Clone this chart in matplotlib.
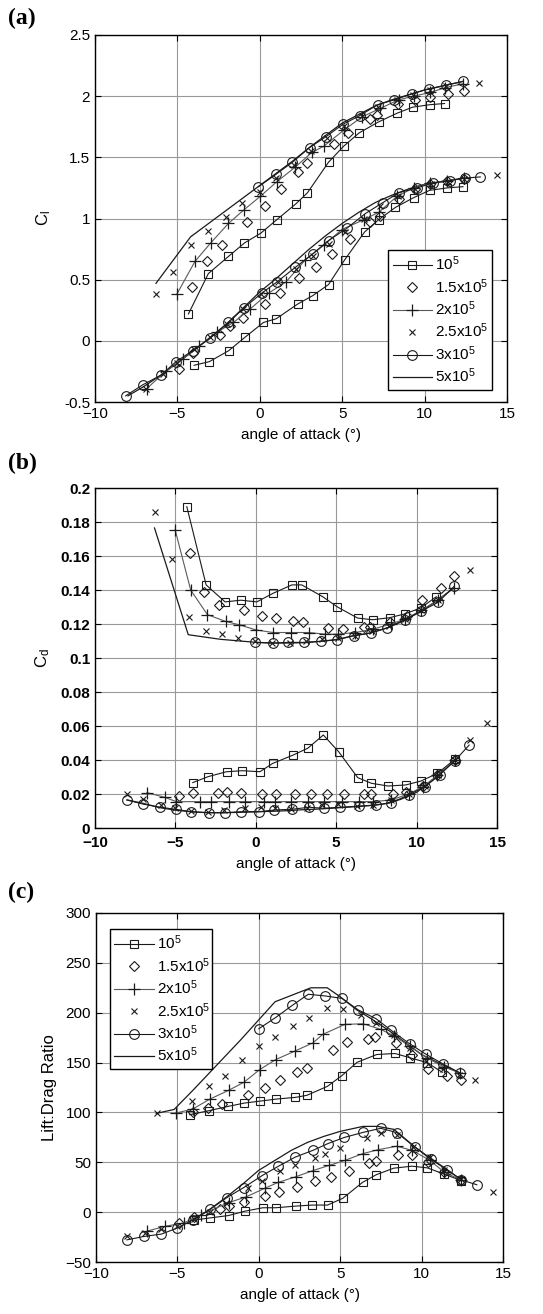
import matplotlib
matplotlib.use('Agg')
import matplotlib.pyplot as plt

plt.rcParams['font.family'] = ['Liberation Sans', 'DejaVu Sans']
plt.rcParams['mathtext.fontset'] = 'custom'
plt.rcParams['mathtext.rm'] = 'Liberation Sans'
plt.rcParams['mathtext.it'] = 'Liberation Sans'

labels = ['10$^5$', '1.5x10$^5$', '2x10$^5$', '2.5x10$^5$', '3x10$^5$', '5x10$^5$']

# ---- (a) lift coefficient, upper (u) and lower (l) groups ----
cl_re1_xu = [-4.33, -3.12, -1.90, -0.93, 0.06, 1.03, 2.19, 2.89, 4.17, 5.08, 6.03, 7.21, 8.32, 9.27, 10.30, 11.21]
cl_re1_yu = [0.22, 0.55, 0.69, 0.80, 0.88, 0.99, 1.12, 1.21, 1.46, 1.59, 1.70, 1.79, 1.86, 1.91, 1.93, 1.94]
cl_re1_xl = [-3.99, -3.06, -1.88, -0.89, 0.22, 0.99, 2.29, 3.22, 4.17, 5.14, 6.36, 7.21, 8.22, 9.33, 10.30, 11.36, 12.33]
cl_re1_yl = [-0.20, -0.17, -0.08, 0.03, 0.15, 0.18, 0.30, 0.37, 0.46, 0.66, 0.89, 0.99, 1.09, 1.17, 1.23, 1.25, 1.26]

cl_re15_xu = [-4.09, -3.22, -2.27, -0.75, 0.32, 1.29, 2.31, 2.89, 4.49, 5.38, 6.70, 7.10, 8.38, 9.40, 10.30, 11.40, 12.40]
cl_re15_yu = [0.44, 0.65, 0.78, 0.97, 1.10, 1.24, 1.38, 1.45, 1.61, 1.70, 1.81, 1.85, 1.94, 1.97, 1.99, 2.02, 2.04]
cl_re15_xl = [-4.88, -4.03, -2.41, -1.80, -0.99, 0.32, 1.23, 2.35, 3.42, 4.37, 5.49, 6.70, 7.31, 8.42, 9.43, 10.34, 11.36, 12.37]
cl_re15_yl = [-0.23, -0.10, 0.05, 0.12, 0.19, 0.30, 0.39, 0.51, 0.60, 0.71, 0.83, 0.97, 1.02, 1.16, 1.24, 1.28, 1.31, 1.32]

cl_re2_xu = [-5.04, -3.93, -2.98, -1.90, -0.97, 0.02, 1.03, 2.15, 3.16, 3.87, 5.08, 6.19, 7.31, 8.42, 9.33, 10.34, 11.26, 12.30]
cl_re2_yu = [0.38, 0.65, 0.80, 0.96, 1.07, 1.18, 1.30, 1.42, 1.54, 1.59, 1.72, 1.83, 1.90, 1.97, 2.00, 2.03, 2.07, 2.10]
cl_re2_xl = [-6.86, -5.71, -4.68, -3.66, -2.61, -1.60, -0.59, 0.53, 1.58, 2.75, 3.87, 4.98, 6.30, 7.21, 8.32, 9.33, 10.34, 11.36, 12.37]
cl_re2_yl = [-0.39, -0.25, -0.15, -0.04, 0.07, 0.15, 0.26, 0.39, 0.48, 0.66, 0.78, 0.91, 0.99, 1.05, 1.18, 1.25, 1.29, 1.31, 1.33]

cl_re25_xu = [-6.30, -5.28, -4.17, -3.12, -2.06, -1.05, 0.0, 1.0, 2.1, 3.1, 4.1, 5.1, 6.2, 7.2, 8.3, 9.3, 10.3, 11.3, 13.3]
cl_re25_yu = [0.38, 0.56, 0.78, 0.90, 1.01, 1.13, 1.22, 1.33, 1.44, 1.55, 1.66, 1.76, 1.84, 1.91, 1.97, 2.01, 2.05, 2.08, 2.11]
cl_re25_xl = [-6.9, -5.9, -5.0, -4.0, -3.0, -2.0, -1.0, 0.1, 1.1, 2.2, 3.2, 4.2, 5.2, 6.3, 7.3, 8.4, 9.4, 10.4, 11.4, 12.4, 14.4]
cl_re25_yl = [-0.39, -0.27, -0.18, -0.07, 0.03, 0.14, 0.26, 0.38, 0.48, 0.59, 0.69, 0.79, 0.89, 1.00, 1.10, 1.18, 1.24, 1.28, 1.30, 1.32, 1.355]

cl_re3_xu = [-0.08, 0.97, 1.98, 3.02, 4.03, 5.04, 6.05, 7.15, 8.16, 9.23, 10.24, 11.30, 12.31]
cl_re3_yu = [1.26, 1.36, 1.46, 1.58, 1.67, 1.77, 1.84, 1.93, 1.97, 2.02, 2.06, 2.09, 2.12]
cl_re3_xl = [-8.14, -7.11, -5.99, -5.08, -4.07, -3.02, -1.90, -0.95, 0.12, 1.03, 2.15, 3.20, 4.17, 5.28, 6.40, 7.47, 8.42, 9.53, 10.49, 11.56, 12.43, 13.38]
cl_re3_yl = [-0.45, -0.36, -0.28, -0.17, -0.08, 0.02, 0.15, 0.27, 0.39, 0.48, 0.60, 0.71, 0.82, 0.92, 1.04, 1.13, 1.21, 1.25, 1.29, 1.31, 1.33, 1.34]

cl_re5_xu = [-6.3, -4.2, 0, 1, 2, 3, 4, 5, 6, 7, 8, 9, 10, 11, 12.3]
cl_re5_yu = [0.47, 0.85, 1.27, 1.37, 1.47, 1.58, 1.68, 1.78, 1.85, 1.92, 1.97, 2.01, 2.05, 2.08, 2.12]
cl_re5_xl = [-8, -7, -6, -5, -4, -3, -2, -1, 0, 1, 2, 3, 4, 5, 6, 7, 8, 9, 10, 11, 12.4]
cl_re5_yl = [-0.45, -0.37, -0.28, -0.18, -0.08, 0.03, 0.14, 0.27, 0.40, 0.51, 0.63, 0.75, 0.86, 0.96, 1.05, 1.13, 1.19, 1.24, 1.28, 1.30, 1.33]

# ---- (b) drag coefficient ----
cd_re1_xu = [-4.29, -3.09, -1.91, -0.93, 0.06, 1.06, 2.24, 2.86, 4.17, 5.08, 6.33, 7.26, 8.32, 9.29, 10.27, 11.22]
cd_re1_yu = [0.189, 0.143, 0.133, 0.134, 0.133, 0.138, 0.143, 0.143, 0.136, 0.130, 0.1235, 0.1225, 0.1237, 0.126, 0.1295, 0.136]
cd_re1_xl = [-3.92, -2.97, -1.82, -0.83, 0.26, 1.05, 2.32, 3.23, 4.20, 5.15, 6.34, 7.19, 8.22, 9.31, 10.26, 11.29, 12.38]
cd_re1_yl = [0.0267, 0.0302, 0.0331, 0.0337, 0.0331, 0.0380, 0.0429, 0.0469, 0.0547, 0.0449, 0.0296, 0.0263, 0.0247, 0.0253, 0.0276, 0.0321, 0.0404]

cd_re15_xu = [-4.09, -3.22, -2.28, -0.73, 0.37, 1.27, 2.30, 2.93, 4.52, 5.41, 6.70, 7.10, 8.36, 9.40, 10.33, 11.51, 12.34]
cd_re15_yu = [0.162, 0.139, 0.131, 0.128, 0.125, 0.1235, 0.122, 0.121, 0.1175, 0.117, 0.118, 0.1185, 0.121, 0.125, 0.134, 0.141, 0.148]
cd_re15_xl = [-4.79, -3.92, -2.38, -1.78, -0.93, 0.40, 1.25, 2.42, 3.41, 4.40, 5.50, 6.73, 7.19, 8.51, 9.31, 10.40, 11.29, 12.38]
cd_re15_yl = [0.0188, 0.0208, 0.0208, 0.0214, 0.0208, 0.020, 0.020, 0.020, 0.020, 0.020, 0.020, 0.020, 0.020, 0.020, 0.0214, 0.0247, 0.031, 0.040]

cd_re2_xu = [-5.02, -4.05, -3.01, -1.87, -1.02, 0.02, 1.06, 2.18, 3.28, 4.32, 5.1, 6.2, 7.3, 8.4, 9.3, 10.3, 11.3, 12.3]
cd_re2_yu = [0.1755, 0.140, 0.1255, 0.1215, 0.1195, 0.1165, 0.115, 0.115, 0.115, 0.114, 0.114, 0.115, 0.117, 0.120, 0.123, 0.128, 0.134, 0.141]
cd_re2_xl = [-6.77, -5.64, -4.95, -3.50, -2.77, -1.64, -0.69, 0.50, 1.19, 2.18, 3.27, 4.26, 5.35, 6.44, 7.27, 8.42, 9.50, 10.40, 11.29, 12.38]
cd_re2_yl = [0.0208, 0.018, 0.0155, 0.0155, 0.0155, 0.0155, 0.0155, 0.0155, 0.0155, 0.0155, 0.0155, 0.0155, 0.0155, 0.0155, 0.0155, 0.0165, 0.020, 0.0243, 0.031, 0.040]

cd_re25_xu = [-6.27, -5.23, -4.15, -3.11, -2.12, -1.08, -0.04, 1.0, 2.1, 3.1, 4.1, 5.1, 6.2, 7.2, 8.3, 9.3, 10.3, 11.3, 13.3]
cd_re25_yu = [0.186, 0.158, 0.124, 0.116, 0.114, 0.112, 0.110, 0.109, 0.109, 0.110, 0.111, 0.112, 0.113, 0.116, 0.119, 0.123, 0.128, 0.134, 0.152]
cd_re25_xl = [-8.0, -7.0, -5.9, -5.0, -4.0, -3.0, -2.0, -0.7, 0.3, 1.2, 2.2, 3.2, 4.1, 5.1, 6.3, 7.3, 8.4, 9.5, 10.5, 11.3, 12.4, 13.3, 14.4]
cd_re25_yl = [0.020, 0.017, 0.0135, 0.0116, 0.010, 0.0095, 0.0105, 0.0116, 0.0122, 0.0115, 0.0112, 0.012, 0.0135, 0.014, 0.013, 0.0135, 0.0165, 0.020, 0.0245, 0.031, 0.040, 0.052, 0.062]

cd_re3_xu = [-0.04, 1.04, 2.03, 2.97, 4.05, 5.08, 6.12, 7.16, 8.15, 9.25, 10.27, 11.33, 12.34]
cd_re3_yu = [0.1092, 0.1088, 0.1092, 0.1092, 0.1098, 0.1108, 0.1131, 0.1147, 0.1176, 0.1225, 0.1275, 0.1327, 0.1422]
cd_re3_xl = [-8.02, -7.03, -5.94, -4.99, -4.02, -2.93, -1.92, -0.89, 0.2, 1.15, 2.24, 3.31, 4.22, 5.25, 6.44, 7.47, 8.42, 9.5, 10.5, 11.43, 12.38, 13.27]
cd_re3_yl = [0.0165, 0.0141, 0.0122, 0.011, 0.0096, 0.009, 0.009, 0.0096, 0.0096, 0.0106, 0.011, 0.0122, 0.0116, 0.0122, 0.0129, 0.0135, 0.0149, 0.0194, 0.0243, 0.0312, 0.0396, 0.0488]

cd_re5_xu = [-6.3, -4.2, -2.2, 0, 1, 2, 3, 4, 5, 6, 7, 8, 9, 10, 11, 12.3]
cd_re5_yu = [0.1765, 0.1137, 0.111, 0.1092, 0.1088, 0.1088, 0.109, 0.1098, 0.1108, 0.113, 0.1145, 0.1172, 0.121, 0.126, 0.132, 0.141]
cd_re5_xl = [-8, -7, -6, -5, -4, -3, -2, -1, 0, 1, 2, 3, 4, 5, 6, 7, 8, 9, 10, 11, 12.4]
cd_re5_yl = [0.0165, 0.0145, 0.012, 0.0105, 0.0095, 0.009, 0.009, 0.0092, 0.0095, 0.0098, 0.0102, 0.0108, 0.0112, 0.0118, 0.0124, 0.0131, 0.0142, 0.0168, 0.021, 0.028, 0.040]

# ---- (c) lift to drag ratio ----
ld_re1_xu = [-4.25, -3.08, -1.90, -0.88, 0.10, 1.08, 2.25, 2.94, 4.22, 5.10, 6.04, 7.25, 8.37, 9.31, 10.33, 11.27]
ld_re1_yu = [97.7, 101.7, 106, 109.4, 111.4, 113.4, 115.1, 117.1, 126.2, 136.9, 150.3, 158.1, 159.1, 154.7, 150, 140.3]
ld_re1_xl = [-4.0, -3.0, -1.86, -0.84, 0.25, 1.04, 2.31, 3.27, 4.22, 5.16, 6.37, 7.22, 8.29, 9.41, 10.35, 11.37, 12.45]
ld_re1_yl = [-8, -5.8, -3.4, 1.0, 4.4, 4.4, 6.1, 7.1, 7.1, 13.9, 29.8, 37.6, 44.1, 46.1, 44.4, 38.3, 31.5]

ld_re15_xu = [-4.02, -3.14, -2.25, -0.69, 0.39, 1.33, 2.35, 2.94, 4.55, 5.39, 6.73, 7.12, 8.43, 9.41, 10.39, 11.57, 12.41]
ld_re15_yu = [100, 104, 108.7, 117.8, 124.5, 132.2, 140.3, 144.6, 162.4, 170.5, 173.2, 175.5, 169.8, 158, 143.6, 136.9, 132.2]
ld_re15_xl = [-4.9, -4.0, -2.4, -1.86, -0.92, 0.39, 1.27, 2.35, 3.43, 4.45, 5.55, 6.76, 7.22, 8.53, 9.41, 10.4, 11.4, 12.4]
ld_re15_yl = [-11, -5, 3, 6.1, 10.5, 16.3, 19.7, 25.4, 30.8, 35.6, 41.0, 49.2, 50.8, 56.9, 56.9, 50, 40, 32]

ld_re2_xu = [-5.10, -4.06, -3.0, -1.86, -0.92, 0.06, 1.04, 2.20, 3.33, 3.92, 5.29, 6.41, 7.51, 8.33, 9.27, 10.33, 11.37, 12.35]
ld_re2_yu = [99.3, 103.4, 113.4, 122.1, 130.2, 143, 153, 161.4, 169.8, 178.2, 188.3, 188.9, 183.2, 176.5, 166.4, 154.7, 145.6, 139.6]
ld_re2_xl = [-6.86, -5.75, -4.6, -3.53, -1.86, -0.78, 0.39, 1.18, 2.29, 3.33, 4.31, 5.29, 6.37, 7.35, 8.47, 9.41, 10.5, 11.4, 12.45]
ld_re2_yl = [-19, -14.2, -10.8, -2.4, 9.5, 15.3, 24.1, 29.8, 35.6, 41.7, 46.8, 51.9, 58.6, 62.7, 66.1, 62, 52, 40, 32]

ld_re25_xu = [-6.27, -4.12, -3.04, -2.06, -1.02, 0, 1.02, 2.12, 3.10, 4.16, 5.16, 6.27, 7.2, 8.3, 9.3, 10.3, 11.3, 12.3, 13.27]
ld_re25_yu = [99.3, 111.1, 126.2, 136.9, 152.3, 166.4, 175.8, 186.6, 195, 204.4, 204, 197.3, 190, 178, 165, 152, 144, 138, 132.2]
ld_re25_xl = [-8.1, -7.0, -6.0, -5.0, -4.0, -3.0, -2.0, -0.69, 0.2, 1.31, 2.25, 3.43, 4.06, 5.0, 6.67, 7.51, 8.5, 9.5, 10.5, 11.4, 12.4, 14.41]
ld_re25_yl = [-24, -21, -17, -14, -7, 0, 9, 24.7, 31.5, 41, 47.5, 54.6, 58.6, 64.4, 73.9, 79, 77, 65, 55, 42, 33, 20.7]

ld_re3_xu = [0, 1.02, 2.06, 3.04, 4.08, 5.10, 6.12, 7.20, 8.14, 9.27, 10.29, 11.31, 12.35]
ld_re3_yu = [183.9, 195, 207.4, 218.5, 216.8, 214.4, 202.7, 194, 182.2, 168.8, 158.1, 148.7, 139.6]
ld_re3_xl = [-8.1, -7.06, -5.98, -5.0, -4.02, -3.0, -1.96, -0.92, 0.2, 1.18, 2.25, 3.33, 4.25, 5.25, 6.41, 7.49, 8.49, 9.57, 10.59, 11.57, 12.45, 13.39]
ld_re3_yl = [-27.8, -24.4, -22.0, -15.9, -7.5, 2.7, 14.6, 24.7, 36.6, 45.8, 55.3, 62.0, 68.8, 74.9, 80, 84.1, 79.7, 65.4, 53.6, 42.7, 32.2, 27.5]

ld_re5_xu = [-6.3, -5.2, -4.0, -1.1, 1.0, 3.2, 4.2, 5.0, 6.0, 7.0, 8.0, 9.0, 10.0, 11.0, 12.3]
ld_re5_yu = [99, 103, 123, 173, 211, 225, 225, 216, 203, 193, 182, 170, 158, 150, 140]
ld_re5_xl = [-4, -3, -2, -1, 0, 1, 2, 3, 4, 5, 6.4, 7.3, 8.3, 9.4, 10.4, 11.5, 12.4]
ld_re5_yl = [-7.5, 3, 15, 28, 42, 52, 62, 70, 76, 81, 86, 86, 83, 68, 55, 43, 33]

W, H = 543, 1314
fig = plt.figure(figsize=(W / 100, H / 100), dpi=100)


def px_axes(l, t, r, b):
    return fig.add_axes([l / W, 1 - b / H, (r - l) / W, (b - t) / H])


def draw(ax, data):
    (x1u, y1u, x1l, y1l, x15u, y15u, x15l, y15l, x2u, y2u, x2l, y2l,
     x25u, y25u, x25l, y25l, x3u, y3u, x3l, y3l, x5u, y5u, x5l, y5l) = data
    for xs, ys in [(x5u, y5u), (x5l, y5l)]:
        h5, = ax.plot(xs, ys, '-', color='0.1', lw=0.9)
    for xs, ys in [(x1u, y1u), (x1l, y1l)]:
        h1, = ax.plot(xs, ys, '-s', color='0.1', lw=0.8, ms=5.5, mfc='none', mew=0.8)
    for xs, ys in [(x15u, y15u), (x15l, y15l)]:
        h15, = ax.plot(xs, ys, 'D', color='0.1', ms=5.5, mfc='none', mew=0.8)
    for xs, ys in [(x2u, y2u), (x2l, y2l)]:
        h2, = ax.plot(xs, ys, '-+', color='0.35', lw=0.8, ms=9, mew=0.9,
                      mec='0.1')
    for xs, ys in [(x25u, y25u), (x25l, y25l)]:
        h25, = ax.plot(xs, ys, 'x', color='0.1', ms=5, mew=0.8)
    for xs, ys in [(x3u, y3u), (x3l, y3l)]:
        h3, = ax.plot(xs, ys, '-o', color='0.1', lw=0.8, ms=7, mfc='none', mew=0.8)
    return [h1, h15, h2, h25, h3, h5]


def style(ax, bold=False):
    ax.set_xlim(-10, 15)
    ax.set_xticks([-10, -5, 0, 5, 10, 15])
    ax.grid(True, color='0.6', lw=0.8)
    ax.set_axisbelow(True)
    ax.tick_params(direction='in', top=True, right=True, length=4,
                   labelsize=11, width=0.8)
    for s in ax.spines.values():
        s.set_linewidth(1.0)
    if bold:
        ax.tick_params(axis='x', pad=6)
        for t in ax.get_xticklabels() + ax.get_yticklabels():
            t.set_fontweight('bold')
    ax.set_xlabel('angle of attack (°)', fontsize=11, labelpad=5)


# (a)
ax1 = px_axes(95, 35, 507, 402)
hs = draw(ax1, [cl_re1_xu, cl_re1_yu, cl_re1_xl, cl_re1_yl, cl_re15_xu, cl_re15_yu,
                cl_re15_xl, cl_re15_yl, cl_re2_xu, cl_re2_yu, cl_re2_xl, cl_re2_yl,
                cl_re25_xu, cl_re25_yu, cl_re25_xl, cl_re25_yl, cl_re3_xu, cl_re3_yu,
                cl_re3_xl, cl_re3_yl, cl_re5_xu, cl_re5_yu, cl_re5_xl, cl_re5_yl])
ax1.set_ylim(-0.5, 2.5)
ax1.set_yticks([-0.5, 0, 0.5, 1, 1.5, 2, 2.5])
ax1.set_yticklabels(['-0.5', '0', '0.5', '1', '1.5', '2', '2.5'])
ax1.set_ylabel(r'C$_\mathregular{l}$', fontsize=12, labelpad=8)
style(ax1)
leg = ax1.legend(hs, labels, loc='lower left', bbox_to_anchor=(0.711, 0.033, 0.253, 0.411),
                 mode='expand', fancybox=False, edgecolor='black', framealpha=1,
                 fontsize=11, handlelength=2.6, borderpad=0.3, labelspacing=0.25,
                 handletextpad=0.2, borderaxespad=0)
leg.get_frame().set_linewidth(1.0)
fig.text(8 / W, 1 - 18 / H, '(a)', fontsize=17, fontweight='bold',
         family='Liberation Serif', va='center')

# (b)
ax2 = px_axes(95, 488, 497, 828)
draw(ax2, [cd_re1_xu, cd_re1_yu, cd_re1_xl, cd_re1_yl, cd_re15_xu, cd_re15_yu,
           cd_re15_xl, cd_re15_yl, cd_re2_xu, cd_re2_yu, cd_re2_xl, cd_re2_yl,
           cd_re25_xu, cd_re25_yu, cd_re25_xl, cd_re25_yl, cd_re3_xu, cd_re3_yu,
           cd_re3_xl, cd_re3_yl, cd_re5_xu, cd_re5_yu, cd_re5_xl, cd_re5_yl])
ax2.set_ylim(0, 0.2)
ax2.set_yticks([0, 0.02, 0.04, 0.06, 0.08, 0.1, 0.12, 0.14, 0.16, 0.18, 0.2])
ax2.set_yticklabels(['0', '0.02', '0.04', '0.06', '0.08', '0.1', '0.12', '0.14',
                     '0.16', '0.18', '0.2'])
ax2.set_ylabel(r'C$_\mathregular{d}$', fontsize=12, labelpad=6)
style(ax2, bold=True)
fig.text(8 / W, 1 - 463 / H, '(b)', fontsize=17, fontweight='bold',
         family='Liberation Serif', va='center')

# (c)
ax3 = px_axes(96, 913, 503, 1262)
hs = draw(ax3, [ld_re1_xu, ld_re1_yu, ld_re1_xl, ld_re1_yl, ld_re15_xu, ld_re15_yu,
                ld_re15_xl, ld_re15_yl, ld_re2_xu, ld_re2_yu, ld_re2_xl, ld_re2_yl,
                ld_re25_xu, ld_re25_yu, ld_re25_xl, ld_re25_yl, ld_re3_xu, ld_re3_yu,
                ld_re3_xl, ld_re3_yl, ld_re5_xu, ld_re5_yu, ld_re5_xl, ld_re5_yl])
ax3.set_ylim(-50, 300)
ax3.set_yticks(range(-50, 301, 50))
ax3.set_ylabel('Lift:Drag Ratio', fontsize=12, labelpad=6)
style(ax3)
leg = ax3.legend(hs, labels, loc='lower left', bbox_to_anchor=(0.034, 0.553, 0.251, 0.43),
                 mode='expand', fancybox=False, edgecolor='black', framealpha=1,
                 fontsize=11, handlelength=2.6, borderpad=0.3, labelspacing=0.25,
                 handletextpad=0.2, borderaxespad=0)
leg.get_frame().set_linewidth(1.0)
fig.text(8 / W, 1 - 892 / H, '(c)', fontsize=17, fontweight='bold',
         family='Liberation Serif', va='center')

fig.savefig('out.png', dpi=100)
